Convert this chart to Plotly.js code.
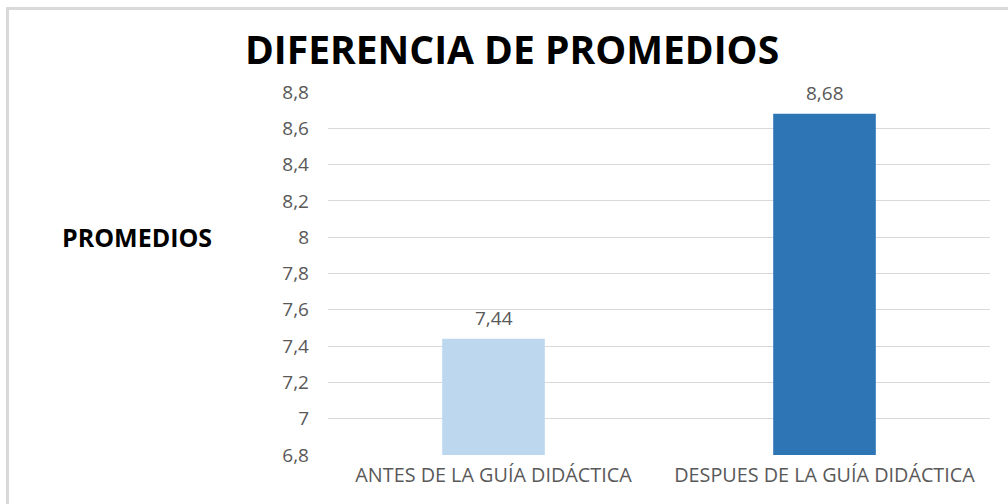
<!DOCTYPE html>
<html><head><meta charset="utf-8">
<script src="https://cdn.plot.ly/plotly-3.0.1.min.js"></script>
<style>
html,body{margin:0;padding:0;background:#fff;}
#wrap{position:relative;width:1008px;height:504px;}
#chart{width:1008px;height:504px;}
#frame{position:absolute;left:6px;top:7px;width:1010px;height:510px;border-left:3px solid #d9d9d9;border-top:3px solid #d9d9d9;pointer-events:none;}
</style></head>
<body><div id="wrap"><div id="chart"></div><div id="frame"></div></div>
<script>
const categories = ["ANTES DE LA GUÍA DIDÁCTICA", "DESPUES DE LA GUÍA DIDÁCTICA"];
const values = [7.44, 8.68];
const labels = ["7,44", "8,68"];
const colors = ["#BDD7EE", "#2E75B6"];

const trace = {
  type: 'bar', x: categories, y: values,
  marker: {color: colors},
  width: 0.31,
  hoverinfo: 'none'
};
const dataLabels = categories.map((c, i) => ({
  x: c, y: values[i], xref: 'x', yref: 'y', text: labels[i], showarrow: false,
  yanchor: 'bottom', yshift: 6,
  font: {family: 'Open Sans', size: 19, color: '#595959'}
}));
const layout = {
  width: 1008, height: 504,
  margin: {l: 328, r: 18, t: 92, b: 49},
  paper_bgcolor: '#fff', plot_bgcolor: '#fff',
  separators: ',.',
  showlegend: false,
  title: {text: '<b>DIFERENCIA DE PROMEDIOS</b>', x: 0.508, xanchor: 'center', y: 0.9, yanchor: 'middle',
          font: {family: 'Open Sans', size: 39, color: '#000'}},
  xaxis: {tickfont: {family: 'Open Sans', size: 19.8, color: '#595959'}, showgrid: false,
          showline: false, ticks: '', ticklabelstandoff: 6},
  yaxis: {range: [6.8, 8.8], dtick: 0.2, tick0: 6.8, showgrid: true, gridcolor: '#d9d9d9', gridwidth: 1,
          zeroline: false, showline: false, ticks: '', ticklabelstandoff: 18,
          tickfont: {family: 'Open Sans', size: 19, color: '#595959'}},
  annotations: dataLabels.concat([{text: '<b>PROMEDIOS</b>', xref: 'paper', yref: 'paper', x: -0.172, y: 0.6,
                 xanchor: 'right', yanchor: 'middle', showarrow: false,
                 font: {family: 'Open Sans', size: 25, color: '#000'}}])
};
Plotly.newPlot('chart', [trace], layout, {displayModeBar: false, staticPlot: true});
</script></body></html>
